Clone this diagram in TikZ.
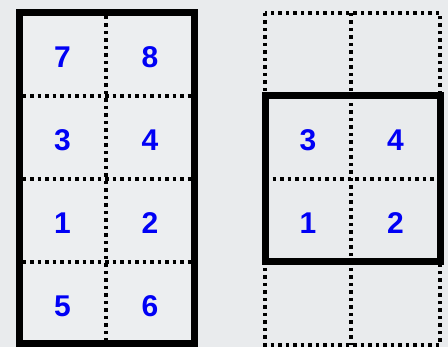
\documentclass[tikz,border=0pt]{standalone}
\usepackage{fontspec}
\setmainfont{Liberation Sans}
\definecolor{bg}{HTML}{E9EBED}
\definecolor{cellbg}{HTML}{ECEEF0}
\definecolor{numblue}{HTML}{0000F5}
\begin{document}
\begin{tikzpicture}[x=1pt,y=-1pt,
  thick box/.style={draw=black,line width=7pt},
  dotline/.style={draw=black,line width=3.5pt,dash pattern=on 3.5pt off 4pt},
  num/.style={text=numblue,font=\bfseries\fontsize{30}{30}\selectfont,inner sep=0pt}]
\useasboundingbox (0,0) rectangle (448,347);
\fill[bg] (0,0) rectangle (448,347);
% left stack
\fill[cellbg] (19,12.5) rectangle (194.5,344);
\foreach \y in {96,179,262} \draw[dotline] (22.5,\y) -- (191,\y);
\draw[dotline] (106,16) -- (106,340.5);
\draw[thick box] (19,12.5) rectangle (194.5,344);
\node[num] (n7) at (62.5,57) {7};
\node[num] (n8) at (150,57) {8};
\node[num] (n3) at (62.5,140) {3};
\node[num] (n4) at (150,140) {4};
\node[num] (n1) at (62.5,223) {1};
\node[num] (n2) at (150,223) {2};
\node[num] (n5) at (62.5,306) {5};
\node[num] (n6) at (150,306) {6};
% right stack
\draw[dotline] (265,13) rectangle (440,345);
\draw[dotline] (351,13) -- (351,345);
\draw[dotline] (265,179) -- (440,179);
\draw[thick box] (265,96) rectangle (440,262);
\node[num] (m3) at (308,140) {3};
\node[num] (m4) at (395.5,140) {4};
\node[num] (m1) at (308,223) {1};
\node[num] (m2) at (395.5,223) {2};
\end{tikzpicture}
\end{document}
